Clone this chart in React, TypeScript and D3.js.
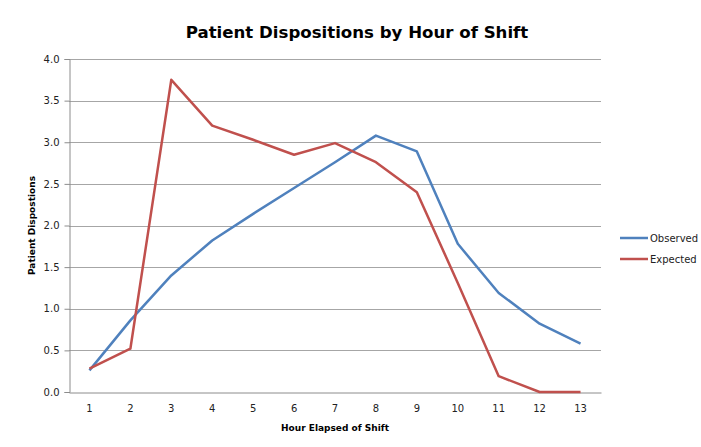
import { useEffect, useRef } from "react";
import * as d3 from "d3";

const hours = ["1", "2", "3", "4", "5", "6", "7", "8", "9", "10", "11", "12", "13"];
const observed = [0.26, 0.86, 1.4, 1.82, 2.14, 2.45, 2.76, 3.08, 2.89, 1.78, 1.19, 0.82, 0.58];
const expected = [0.28, 0.52, 3.75, 3.2, 3.03, 2.85, 2.99, 2.76, 2.4, 1.31, 0.19, 0.0, 0.0];
const yTicks = [0, 0.5, 1, 1.5, 2, 2.5, 3, 3.5, 4];

const series = [
  { name: "Observed", values: observed, color: "#4f81bd" },
  { name: "Expected", values: expected, color: "#c0504d" },
];

const App = () => {
  const ref = useRef<SVGSVGElement>(null);

  useEffect(() => {
    const width = 701;
    const height = 447;
    const margin = { top: 59, right: 100, bottom: 55, left: 69 };

    const svg = d3.select(ref.current);
    svg.selectAll("*").remove();

    const x = d3.scaleBand()
      .domain(hours)
      .range([margin.left, width - margin.right]);

    const y = d3.scaleLinear()
      .domain([0, 4])
      .range([height - margin.bottom, margin.top]);

    const font = "Tahoma, 'DejaVu Sans', sans-serif";

    // grid lines
    svg.append("g")
      .selectAll("line")
      .data(yTicks.slice(1))
      .enter()
      .append("line")
      .attr("x1", margin.left)
      .attr("x2", width - margin.right)
      .attr("y1", d => Math.round(y(d)) + 0.5)
      .attr("y2", d => Math.round(y(d)) + 0.5)
      .attr("stroke", "#a6a6a6")
      .attr("stroke-width", 1);

    // y axis
    const yAxis = svg.append("g")
      .attr("transform", `translate(${margin.left + 0.5},0)`)
      .call(d3.axisLeft(y).tickValues(yTicks).tickFormat(d3.format(".1f")).tickSize(5).tickPadding(5));
    yAxis.select(".domain").attr("stroke", "#8c8c8c");
    yAxis.selectAll(".tick line").attr("stroke", "#8c8c8c");
    yAxis.selectAll("text").attr("font-family", font).attr("font-size", 10).attr("fill", "#222");

    // x axis
    const xAxis = svg.append("g")
      .attr("transform", `translate(0,${Math.round(height - margin.bottom) + 0.5})`)
      .call(d3.axisBottom(x).tickSize(0).tickPadding(12));
    xAxis.select(".domain").attr("stroke", "#8c8c8c");
    xAxis.selectAll("text").attr("font-family", font).attr("font-size", 10).attr("fill", "#222");

    // lines
    const line = d3.line<number>()
      .x((_, i) => (x(hours[i]) as number) + x.bandwidth() / 2)
      .y(d => y(d));

    series.forEach(s => {
      svg.append("path")
        .datum(s.values)
        .attr("d", line)
        .attr("fill", "none")
        .attr("stroke", s.color)
        .attr("stroke-width", 2.5)
        .attr("stroke-linejoin", "round");
    });

    // title
    svg.append("text")
      .attr("x", 357)
      .attr("y", 38)
      .attr("text-anchor", "middle")
      .attr("font-family", font)
      .attr("font-weight", "bold")
      .attr("font-size", 16.6)
      .text("Patient Dispositions by Hour of Shift");

    // axis titles
    svg.append("text")
      .attr("transform", `translate(35,${(margin.top + height - margin.bottom) / 2}) rotate(-90)`)
      .attr("text-anchor", "middle")
      .attr("font-family", font)
      .attr("font-weight", "bold")
      .attr("font-size", 9)
      .text("Patient Dispostions");

    svg.append("text")
      .attr("x", 335)
      .attr("y", 431)
      .attr("text-anchor", "middle")
      .attr("font-family", font)
      .attr("font-weight", "bold")
      .attr("font-size", 9)
      .text("Hour Elapsed of Shift");

    // legend
    const legend = svg.append("g").attr("transform", "translate(620,238)");
    series.forEach((s, i) => {
      const g = legend.append("g").attr("transform", `translate(0,${i * 21})`);
      g.append("line")
        .attr("x1", 0)
        .attr("x2", 28)
        .attr("stroke", s.color)
        .attr("stroke-width", 2.5);
      g.append("text")
        .attr("x", 30)
        .attr("y", 4)
        .attr("font-family", font)
        .attr("font-size", 10)
        .attr("fill", "#222")
        .text(s.name);
    });
  }, []);

  return (
    <svg ref={ref} width={701} height={447}
      style={{ position: "absolute", left: 0, top: 0, background: "#fff" }} />
  );
};

export default App;
